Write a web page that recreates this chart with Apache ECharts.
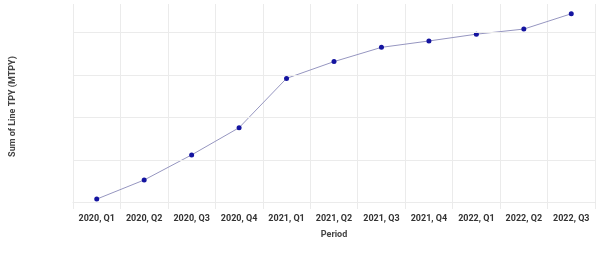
<!DOCTYPE html>
<html><head><meta charset="utf-8">
<script src="https://cdn.jsdelivr.net/npm/echarts@6/dist/echarts.min.js"></script>
<style>html,body{margin:0;padding:0;background:#fff}#c{width:600px;height:254px}</style>
</head><body><div id="c"></div>
<script>
const categories = ['2020, Q1','2020, Q2','2020, Q3','2020, Q4','2021, Q1','2021, Q2','2021, Q3','2021, Q4','2022, Q1','2022, Q2','2022, Q3'];
const lineTpy = [1.6, 10.6, 22.4, 35.2, 58.4, 66.3, 73.0, 76.0, 79.2, 81.6, 88.8];
const gridValues = [0, 20, 40, 60, 80];
const chart = echarts.init(document.getElementById('c'), null, {renderer:'canvas'});
chart.setOption({
  animation:false,
  grid:{left:73,right:5,top:4,bottom:45,containLabel:false,outerBoundsMode:'none'},
  xAxis:{type:'category',data:categories,boundaryGap:true,
    name:'Period',nameLocation:'middle',nameGap:21,
    nameTextStyle:{fontFamily:'Roboto',fontWeight:'bold',fontSize:9,color:'#444'},
    axisLine:{show:true,lineStyle:{color:'#e6e6e6'}},axisTick:{show:false},
    axisLabel:{fontFamily:'Roboto',fontWeight:'bold',fontSize:9,color:'#333',margin:5,interval:0},
    splitLine:{show:true,lineStyle:{color:'#ebebeb',width:1}}},
  yAxis:{type:'value',min:-3.06,max:93.4,
    name:'Sum of Line TPY (MTPY)',nameLocation:'middle',nameGap:56,nameRotate:90,
    nameTextStyle:{fontFamily:'Roboto',fontWeight:'bold',fontSize:9,color:'#444'},
    axisLine:{show:false},axisTick:{show:false},axisLabel:{show:false},splitLine:{show:false}},
  series:[{type:'line',data:lineTpy,symbol:'circle',symbolSize:5,
    lineStyle:{color:'#9696c0',width:1},itemStyle:{color:'#1414a0'},
    markLine:{silent:true,symbol:'none',label:{show:false},animation:false,
      lineStyle:{color:'#ebebeb',type:'solid',width:1},
      data:gridValues.map(v=>({yAxis:v}))},
    z:3}]
});
</script></body></html>
